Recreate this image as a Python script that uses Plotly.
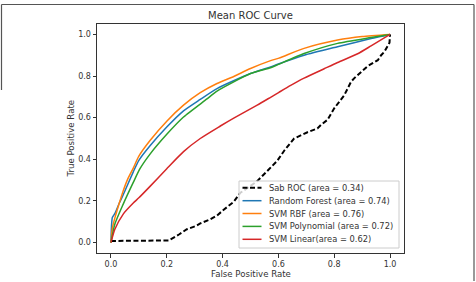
import plotly.graph_objects as go

# ---- data ----
sab_x = [0, 0.2, 0.206, 0.245, 0.272, 0.305, 0.32, 0.353, 0.38, 0.404, 0.44, 0.464, 0.476,
         0.524, 0.56, 0.584, 0.596, 0.62, 0.632, 0.656, 0.68, 0.704, 0.74, 0.752, 0.776,
         0.8, 0.836, 0.86, 0.872, 0.92, 0.956, 0.968, 0.98, 0.998, 1.0]
sab_y = [0.008, 0.008, 0.01, 0.04, 0.064, 0.08, 0.092, 0.11, 0.13, 0.158, 0.196, 0.24, 0.25,
         0.295, 0.345, 0.375, 0.393, 0.44, 0.46, 0.5, 0.515, 0.53, 0.548, 0.565, 0.59,
         0.645, 0.708, 0.772, 0.79, 0.848, 0.876, 0.9, 0.917, 0.96, 1.0]

rf_x = [0, 0.002, 0.005, 0.0144, 0.03, 0.044, 0.08, 0.1, 0.14, 0.2, 0.26, 0.32, 0.38, 0.5,
        0.572, 0.6, 0.692, 0.812, 0.932, 1.0]
rf_y = [0, 0.08, 0.12, 0.14, 0.19, 0.23, 0.34, 0.395, 0.465, 0.555, 0.633, 0.688, 0.74, 0.812,
        0.844, 0.858, 0.9, 0.941, 0.98, 1.0]

rbf_x = [0, 0.005, 0.0144, 0.03, 0.044, 0.06, 0.08, 0.1, 0.14, 0.2, 0.26, 0.32, 0.38, 0.44,
         0.5, 0.572, 0.602, 0.692, 0.812, 0.9, 1.0]
rbf_y = [0, 0.07, 0.12, 0.19, 0.249, 0.305, 0.358, 0.415, 0.49, 0.583, 0.66, 0.72, 0.764,
         0.798, 0.836, 0.874, 0.886, 0.933, 0.973, 0.99, 1.0]

poly_x = [0, 0.014, 0.044, 0.08, 0.104, 0.14, 0.2, 0.26, 0.344, 0.38, 0.5, 0.572, 0.6,
          0.692, 0.812, 0.932, 1.0]
poly_y = [0, 0.089, 0.185, 0.289, 0.355, 0.425, 0.52, 0.603, 0.69, 0.728, 0.812, 0.84,
          0.856, 0.908, 0.957, 0.985, 1.0]

lin_x = [0, 0.014, 0.044, 0.08, 0.1, 0.14, 0.2, 0.26, 0.32, 0.392, 0.44, 0.524, 0.572,
         0.602, 0.644, 0.692, 0.764, 0.812, 0.884, 0.932, 1.0]
lin_y = [0, 0.064, 0.137, 0.19, 0.215, 0.27, 0.355, 0.437, 0.5, 0.56, 0.598, 0.66,
         0.698, 0.722, 0.755, 0.79, 0.835, 0.865, 0.907, 0.945, 1.0]

series_names = ["Sab ROC (area = 0.34)", "Random Forest (area = 0.74)",
                "SVM RBF (area = 0.76)", "SVM Polynomial (area = 0.72)",
                "SVM Linear(area = 0.62)"]

tick_vals = [0.0, 0.2, 0.4, 0.6, 0.8, 1.0]
tick_text = ["0.0", "0.2", "0.4", "0.6", "0.8", "1.0"]

# ---- figure ----
W, H = 476, 282
L, R, T, B = 97, 72, 24, 29
pw, ph = W - L - R, H - T - B
txt = "#333333"
FONT = "DejaVu Sans"

def px2x(p):
    return (p - L) / pw

def py2y(p):
    return (H - B - p) / ph

styles = [dict(color="black", width=2, dash="5px,2.5px"),
          dict(color="#1f77b4", width=1.5),
          dict(color="#ff7f0e", width=1.5),
          dict(color="#2ca02c", width=1.5),
          dict(color="#d62728", width=1.5)]
xs = [sab_x, rf_x, rbf_x, poly_x, lin_x]
ys = [sab_y, rf_y, rbf_y, poly_y, lin_y]

fig = go.Figure()
for i, (x, y, name, st) in enumerate(zip(xs, ys, series_names, styles)):
    line = dict(st)
    if i > 0:
        line.update(shape="spline", smoothing=0.6)
    fig.add_trace(go.Scatter(x=x, y=y, mode="lines", name=name, line=line))

axis_common = dict(range=[-0.05, 1.05], tickvals=tick_vals, ticktext=tick_text,
                   ticks="outside", ticklen=3.5, tickwidth=1, tickcolor=txt,
                   showline=True, linecolor="#333333", linewidth=1, mirror=True,
                   showgrid=False, zeroline=False, automargin=False,
                   tickfont=dict(family=FONT, size=8, color=txt))
fig.update_xaxes(**axis_common)
fig.update_yaxes(**axis_common)

annotations = [
    dict(text="False Positive Rate", x=0.5, y=py2y(274), xref="paper", yref="paper",
         xanchor="center", yanchor="middle", showarrow=False,
         font=dict(family=FONT, size=8.6, color=txt)),
    dict(text="True Positive Rate", x=px2x(70), y=0.5, xref="paper", yref="paper",
         xanchor="center", yanchor="middle", textangle=-90, showarrow=False,
         font=dict(family=FONT, size=8.6, color=txt)),
]

shapes = []
# outer frame of the figure panel, kept fully inside the page
def seg(xa, ya, xb, yb):
    return dict(type="line", xref="paper", yref="paper", layer="below",
                x0=px2x(xa), y0=py2y(ya), x1=px2x(xb), y1=py2y(yb),
                line=dict(color="#555555", width=1.2))
shapes += [seg(1.5, 4.5, 474, 4.5), seg(474, 4.5, 474, 281), seg(1.5, 4.5, 1.5, 90)]

# custom legend (matplotlib-like spacing)
lx0, lx1, ly0, ly1 = 239, 399, 181, 248
shapes.append(dict(type="rect", xref="paper", yref="paper",
                   x0=px2x(lx0), x1=px2x(lx1), y0=py2y(ly1), y1=py2y(ly0),
                   line=dict(color="#cccccc", width=1), fillcolor="rgba(255,255,255,0.8)"))
row_y = [187.7, 200.7, 213.5, 226.4, 239.3]
for name, st, ry in zip(series_names, styles, row_y):
    shapes.append(dict(type="line", xref="paper", yref="paper",
                       x0=px2x(242.5), x1=px2x(261.5), y0=py2y(ry), y1=py2y(ry),
                       line=st))
    annotations.append(dict(text=name, x=px2x(267), y=py2y(ry), xref="paper", yref="paper",
                            xanchor="left", yanchor="middle", showarrow=False,
                            font=dict(family=FONT, size=8.3, color=txt)))

fig.update_layout(
    width=W, height=H,
    margin=dict(l=L, r=R, t=T, b=B, autoexpand=False),
    paper_bgcolor="white", plot_bgcolor="white",
    title=dict(text="Mean ROC Curve", x=0.5, xref="paper", y=1 - 15 / H, yref="container",
               xanchor="center", yanchor="middle",
               font=dict(family=FONT, size=10, color=txt)),
    showlegend=False,
    shapes=shapes,
    annotations=annotations,
)

fig.write_html("out.html")
